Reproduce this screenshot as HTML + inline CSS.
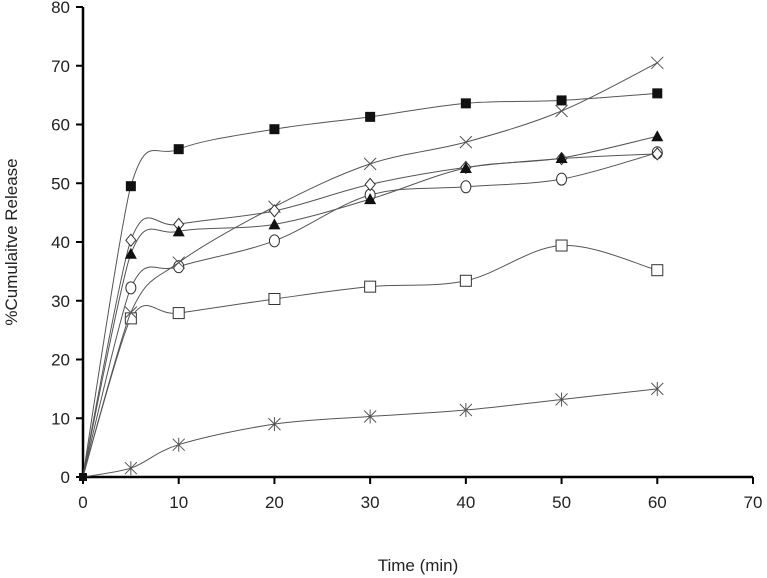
<!DOCTYPE html>
<html><head><meta charset="utf-8"><style>
body{margin:0;background:#fff;}
svg{display:block;font-family:"Liberation Sans",sans-serif;}
</style></head><body>
<svg id="chart" width="767" height="578"></svg>
<script>
const xTicks=[0,10,20,30,40,50,60,70];
const yTicks=[0,10,20,30,40,50,60,70,80];
const times=[0,5,10,20,30,40,50,60];
const sFilledSquare=[0,49.5,55.8,59.2,61.3,63.6,64.1,65.3];
const sCross=[0,28,36.5,46,53.3,57,62.3,70.5];
const sTriangle=[0,38,41.8,43,47.3,52.6,54.3,58];
const sDiamond=[0,40.3,43,45.3,49.8,52.7,54.2,55];
const sCircle=[0,32.2,35.8,40.2,48,49.4,50.7,55.2];
const sOpenSquare=[0,27,27.9,30.3,32.4,33.4,39.4,35.2];
const sStar=[0,1.5,5.5,9,10.3,11.4,13.2,15];
const NS="http://www.w3.org/2000/svg";
const svg=document.getElementById('chart');
const X0=83,X1=753,Y0=477,Y1=7;
const xs=v=>X0+(v/70)*(X1-X0);
const ys=v=>Y0-(v/80)*(Y0-Y1);
function mk(t,a,p){const e=document.createElementNS(NS,t);for(const k in a)e.setAttribute(k,a[k]);(p||svg).appendChild(e);return e;}
const gAx=mk('g',{});


mk('line',{x1:X0,y1:Y1,x2:X0,y2:Y0,stroke:'#000','stroke-width':2.5},gAx);
mk('line',{x1:X0,y1:Y0,x2:X1,y2:Y0,stroke:'#000','stroke-width':2.5},gAx);
xTicks.forEach(t=>{
 mk('line',{x1:xs(t),y1:Y0,x2:xs(t),y2:Y0+7,stroke:'#000','stroke-width':2},gAx);
 const tx=mk('text',{x:xs(t),y:Y0+31,'text-anchor':'middle','font-size':17,fill:'#222'},gAx);
 tx.textContent=t;
 
 
});
yTicks.forEach(t=>{
 mk('line',{x1:X0-7,y1:ys(t),x2:X0,y2:ys(t),stroke:'#000','stroke-width':2},gAx);
 const tx=mk('text',{x:X0-13,y:ys(t)+6,'text-anchor':'end','font-size':17,fill:'#222'},gAx);
 tx.textContent=t;
 
 
});
const xt=mk('text',{x:418,y:571,'text-anchor':'middle','font-size':17,fill:'#222'});
xt.textContent='Time (min)';


const yt=mk('text',{x:0,y:0,'text-anchor':'middle','font-size':17,fill:'#222',transform:'translate(17,242) rotate(-90)'});
yt.textContent='%Cumulaitve Release';


function pathD(vals){
 const p=times.map((t,i)=>[xs(t),ys(vals[i])]);
 let d=`M${p[0][0]},${p[0][1]}`;
 for(let i=0;i<p.length-1;i++){
  const a=p[Math.max(i-1,0)],b=p[i],c=p[i+1],e=p[Math.min(i+2,p.length-1)];
  const k=(i===0)?0:1/6;
  const k2=(i===0)?1/10:1/6;
  d+=` C${b[0]+(c[0]-a[0])*k},${b[1]+(c[1]-a[1])*k} ${c[0]-(e[0]-b[0])*k2},${c[1]-(e[1]-b[1])*k2} ${c[0]},${c[1]}`;
 }
 return d;
}
function marker(type,x,y,g){
 const s='#333';
 if(type==='fsq')mk('rect',{x:x-5,y:y-5,width:10,height:10,fill:'#111'},g);
 else if(type==='osq')mk('rect',{x:x-5.5,y:y-5.5,width:11,height:11,fill:'#fff',stroke:s,'stroke-width':1},g);
 else if(type==='tri')mk('polygon',{points:`${x},${y-6} ${x-6},${y+5} ${x+6},${y+5}`,fill:'#111'},g);
 else if(type==='dia')mk('polygon',{points:`${x},${y-6} ${x+5},${y} ${x},${y+6} ${x-5},${y}`,fill:'#fff',stroke:s,'stroke-width':1},g);
 else if(type==='cir')mk('ellipse',{cx:x,cy:y,rx:5,ry:6,fill:'#fff',stroke:s,'stroke-width':1},g);
 else if(type==='x'){mk('path',{d:`M${x-6},${y-6}L${x+6},${y+6}M${x-6},${y+6}L${x+6},${y-6}`,stroke:'#555','stroke-width':1},g);}
 else if(type==='star'){mk('path',{d:`M${x-6},${y-6}L${x+6},${y+6}M${x-6},${y+6}L${x+6},${y-6}M${x},${y-7}L${x},${y+7}`,stroke:'#555','stroke-width':1},g);}
}
const series=[['series-open-square',sOpenSquare,'osq'],['series-star',sStar,'star'],['series-circle',sCircle,'cir'],['series-cross',sCross,'x'],['series-diamond',sDiamond,'dia'],['series-triangle',sTriangle,'tri'],['series-filled-square',sFilledSquare,'fsq']];
series.forEach(([name,vals,type])=>{
 const g=mk('g',{});
 
 
 mk('path',{d:pathD(vals),fill:'none',stroke:'#555','stroke-width':1},g);
 times.forEach((t,i)=>{ if(i===0){mk('rect',{x:xs(0)-4,y:ys(0)-4,width:8,height:8,fill:'#111'},g);} else marker(type,xs(t),ys(vals[i]),g);});
});
</script>
</body></html>
